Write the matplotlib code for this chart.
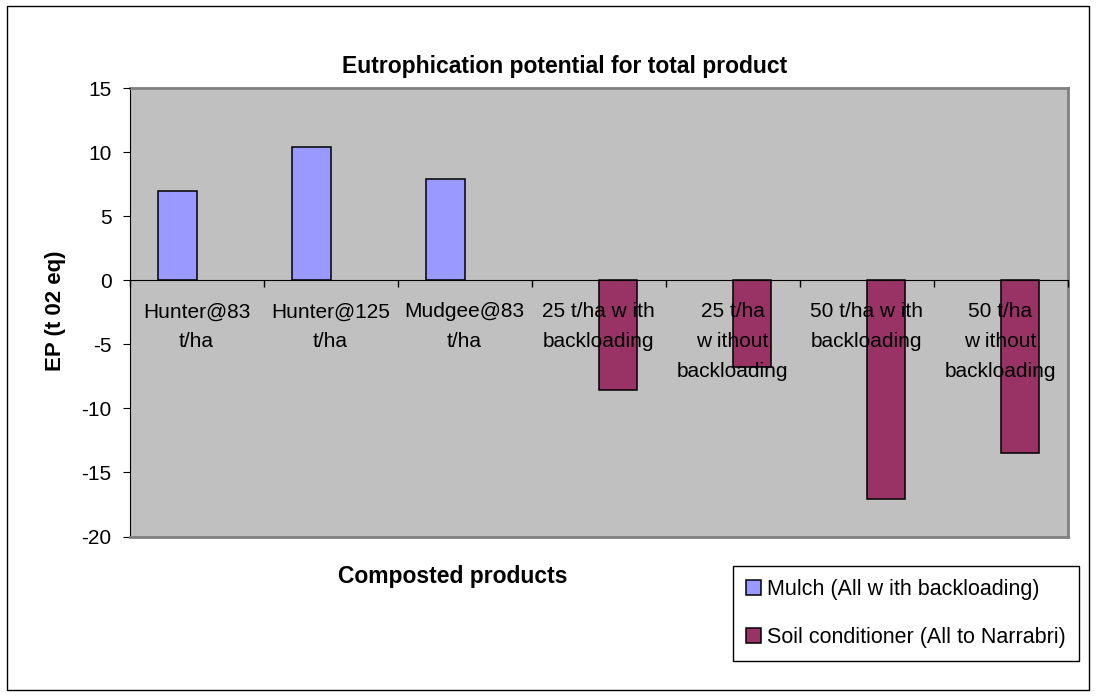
import numpy as np
import matplotlib
matplotlib.use("Agg")
import matplotlib.pyplot as plt
from matplotlib.patches import Rectangle

plt.rcParams['font.family'] = ['Liberation Sans', 'DejaVu Sans']

# data
categories = ["Hunter@83\nt/ha", "Hunter@125\nt/ha", "Mudgee@83\nt/ha",
              "25 t/ha w ith\nbackloading", "25 t/ha\nw ithout\nbackloading",
              "50 t/ha w ith\nbackloading", "50 t/ha\nw ithout\nbackloading"]
mulch = [7.0, 10.4, 7.9, None, None, None, None]
soil = [None, None, None, -8.6, -6.8, -17.1, -13.5]
series_names = ["Mulch (All w ith backloading)", "Soil conditioner (All to Narrabri)"]
yticks = [-20, -15, -10, -5, 0, 5, 10, 15]

W, H = 1096, 699
fig = plt.figure(figsize=(W / 100, H / 100), dpi=100)
fig.patch.set_facecolor('white')

# outer chart border
fig.add_artist(Rectangle((7 / W, 1 - 690 / H), 1082 / W, 684 / H, transform=fig.transFigure,
                         fill=False, edgecolor='black', linewidth=1))

ax = fig.add_axes([129.5 / W, 1 - 536.5 / H, 938 / W, 448.5 / H])
ax.set_facecolor('#C0C0C0')
ax.set_axisbelow(False)  # category labels sit on top of the bars

x = np.arange(len(categories))
bw = 0.2866
mx = [i for i, v in enumerate(mulch) if v is not None]
sx = [i for i, v in enumerate(soil) if v is not None]
ax.bar(x[mx] - bw / 2, [mulch[i] for i in mx], bw, color='#9999FF', edgecolor='black',
       linewidth=1.1, label=series_names[0], zorder=2)
ax.bar(x[sx] + bw / 2, [soil[i] for i in sx], bw, color='#993366', edgecolor='black',
       linewidth=1.1, label=series_names[1], zorder=2)

ax.set_xlim(-0.5, len(categories) - 0.5)
ax.set_ylim(-20, 15)
ax.set_yticks(yticks)
ax.set_yticklabels([str(v) for v in yticks])

# category axis sits on the zero line
ax.spines['bottom'].set_position(('data', 0))
ax.spines['left'].set_color('black')
for s in ['top', 'right']:
    ax.spines[s].set_color('#808080')
    ax.spines[s].set_linewidth(2)
ax.axhline(-20, color='#808080', linewidth=2, zorder=3, clip_on=False)

ax.set_xticks(x)
ax.set_xticklabels(categories, linespacing=1.72)
ax.set_xticks(np.arange(len(categories) + 1) - 0.5, minor=True)
ax.tick_params(axis='x', which='major', length=0, pad=16, labelsize=15)
ax.tick_params(axis='x', which='minor', length=5, direction='out', width=1)
ax.tick_params(axis='y', length=5, pad=8, labelsize=15, direction='out')

fig.text(565 / W, 1 - 67 / H, "Eutrophication potential for total product",
         ha='center', va='center', fontsize=16.5, fontweight='bold')
fig.text(55 / W, 1 - 311 / H, "EP (t 02 eq)", rotation=90, ha='center', va='center',
         fontsize=16, fontweight='bold')
fig.text(453 / W, 1 - 577 / H, "Composted products", ha='center', va='center',
         fontsize=16.5, fontweight='bold')

leg = fig.legend(loc='upper left', bbox_to_anchor=(733 / W, 1 - 566 / H), fontsize=15.5,
                 frameon=True, fancybox=False, edgecolor='black', framealpha=1,
                 handlelength=0.7, handleheight=0.7, handletextpad=0.3,
                 labelspacing=1.25, borderpad=0.6, borderaxespad=0)
leg.get_frame().set_linewidth(1)

fig.savefig("out.png", dpi=100)
